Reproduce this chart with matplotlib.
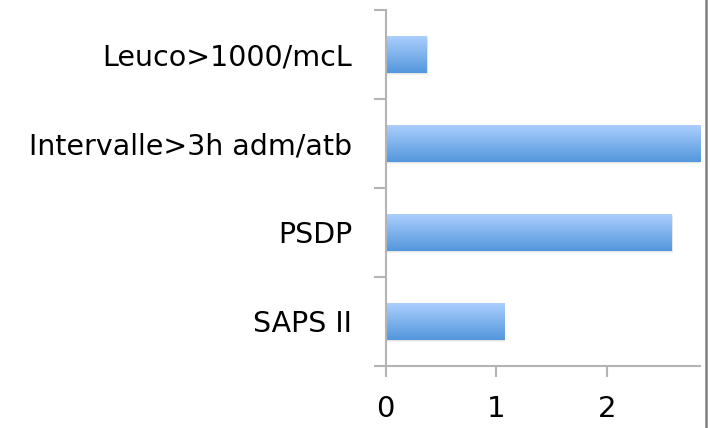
import numpy as np
import matplotlib
matplotlib.use('Agg')
import matplotlib.pyplot as plt
from matplotlib.colors import LinearSegmentedColormap
from matplotlib.lines import Line2D


# donnees du graphique (de bas en haut)
categories = ['SAPS II', 'PSDP', 'Intervalle>3h adm/atb', 'Leuco>1000/mcL']
valeurs = [1.07, 2.58, 2.84, 0.37]
x_ticks = [0, 1, 2]


def barres_degrade(ax, y, largeur, hauteur, cmap):
    """
        Dessine une barre horizontale avec un degrade vertical et une ombre legere
    """
    # ombre portee sous la barre
    for k, a in [(0.025, 0.10), (0.015, 0.12)]:
        ombre = plt.Rectangle((0.012, y - hauteur / 2 - k), largeur, hauteur,
                              facecolor='#808080', edgecolor='none', alpha=a, zorder=1)
        ax.add_patch(ombre)

    # contour de la barre, utilise comme masque
    rect = plt.Rectangle((0, y - hauteur / 2), largeur, hauteur,
                         facecolor='none', edgecolor='none', zorder=3)
    ax.add_patch(rect)

    grad = np.linspace(0, 1, 64).reshape(-1, 1)
    im = ax.imshow(grad, cmap=cmap, aspect='auto', origin='lower',
                   extent=(0, largeur, y - hauteur / 2, y + hauteur / 2), zorder=2)
    im.set_clip_path(rect)


def main():
    fig = plt.figure(figsize=(7.11, 4.28), dpi=100)
    ax = fig.add_axes([0.5423, 0.1449, 0.4423, 0.8318])

    cmap = LinearSegmentedColormap.from_list('bleu', ['#5397DC', '#ABCEFD'])

    # barres
    for i, v in enumerate(valeurs):
        barres_degrade(ax, i, v, 0.415, cmap)

    ax.set_xlim(0, 2.84)
    ax.set_ylim(-0.5, len(categories) - 0.5)

    # axes
    for s in ['top', 'right']:
        ax.spines[s].set_visible(False)
    for s in ['left', 'bottom']:
        ax.spines[s].set_color('#B4B4B4')
        ax.spines[s].set_linewidth(1.5)

    ax.set_yticks(range(len(categories)))
    ax.set_yticklabels(categories)
    ax.set_yticks(np.arange(-0.5, len(categories), 1), minor=True)
    ax.tick_params(axis='y', which='major', length=0, pad=24, labelsize=20.5)
    ax.tick_params(axis='y', which='minor', length=8.5, width=1.5, color='#B4B4B4', direction='out')

    ax.set_xticks(x_ticks)
    ax.set_xticklabels([str(t) for t in x_ticks])
    ax.tick_params(axis='x', length=8, width=1.5, color='#B4B4B4', direction='out', pad=13, labelsize=21)

    # trait vertical a droite
    fig.add_artist(Line2D([0.9936, 0.9936], [0, 1], color='#808080', linewidth=1.8,
                          transform=fig.transFigure))

    fig.savefig('out.png', dpi=100)


if __name__ == '__main__':
    main()
